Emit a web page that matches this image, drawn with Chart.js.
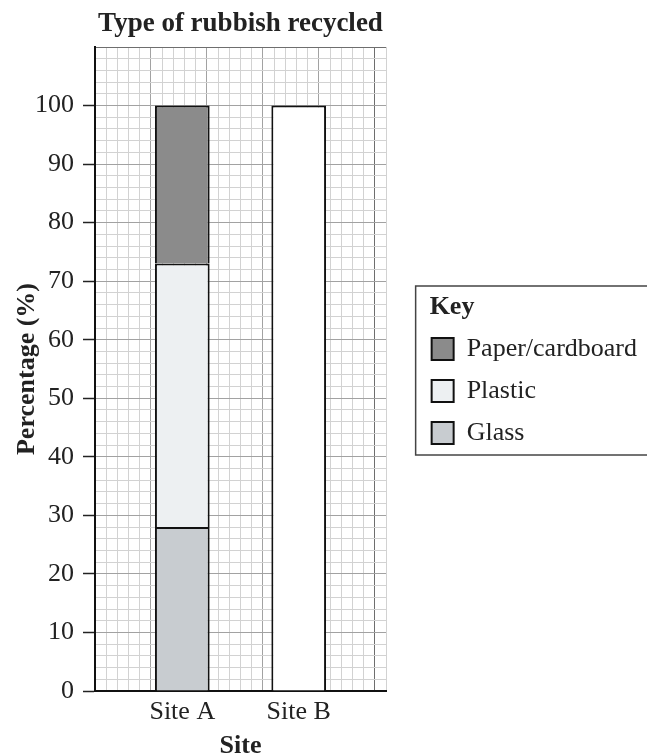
<!DOCTYPE html>
<html><head><meta charset="utf-8">
<script src="https://cdn.jsdelivr.net/npm/chart.js@4/dist/chart.umd.min.js"></script>
<style>html,body{margin:0;padding:0;background:#fff}canvas{display:block}</style>
</head><body>
<canvas id="c" width="647" height="756"></canvas>
<script>
// ---- data ----
const sites = ['Site A', 'Site B'];
const glass = [28, null];
const plastic = [45, null];
const paper = [27, null];
const siteBTotal = [null, 100];
const yTickLabels = [0, 10, 20, 30, 40, 50, 60, 70, 80, 90, 100];
const seriesNames = ['Glass', 'Plastic', 'Paper/cardboard'];
const legendTitle = 'Key';
const chartTitle = 'Type of rubbish recycled';
const xTitle = 'Site';
const yTitle = 'Percentage (%)';

// ---- layout helpers (grid paper has 5 big columns; sites sit in columns 2 and 4) ----
const columnCount = 5;
const siteColumns = [1, 3];
const labels = new Array(columnCount).fill('');
sites.forEach((s, i) => labels[siteColumns[i]] = s);
function place(arr) {
  const out = new Array(columnCount).fill(null);
  arr.forEach((v, i) => out[siteColumns[i]] = v);
  return out;
}

const FONT = "'Liberation Serif', 'Times New Roman', serif";
const TXT = '#222';
const MINOR = '#d2d2d2', MAJOR = '#a2a2a2', EDGE = '#6e6e6e';
const LEG_PAD = 16, LEG_FONT = 26;
const tv = c => (c && c.tick) ? c.tick.value : NaN;

const keyBox = {
  id: 'keyBox',
  afterDraw(chart) {
    const L = chart.legend;
    if (!L) return;
    const ctx = chart.ctx;
    const n = L.legendItems.length;
    const itemH = LEG_FONT, titleH = LEG_FONT;
    const itemsTop = (L.top + titleH + LEG_PAD + L.bottom - n * (itemH + LEG_PAD)) / 2;
    const keyY = itemsTop - LEG_PAD - titleH / 2;
    ctx.save();
    ctx.font = 'bold ' + LEG_FONT + 'px ' + FONT;
    ctx.fillStyle = TXT;
    ctx.textBaseline = 'middle';
    ctx.textAlign = 'left';
    ctx.fillText(legendTitle, L.left + LEG_PAD - 2, keyY);
    ctx.strokeStyle = '#444';
    ctx.lineWidth = 1.5;
    const top = keyY - 21;
    const bottom = itemsTop + n * (itemH + LEG_PAD) - LEG_PAD + 9;
    ctx.strokeRect(L.left, top, chart.width, bottom - top);
    ctx.restore();
  }
};

const bw = 2, bc = '#111';
const datasets = [
  {label: seriesNames[0], data: place(glass), backgroundColor: '#c8ccd0'},
  {label: seriesNames[1], data: place(plastic), backgroundColor: '#edf0f2'},
  {label: seriesNames[2], data: place(paper), backgroundColor: '#8b8b8b'},
  {label: 'Site B', data: place(siteBTotal), backgroundColor: '#ffffff'}
].map(d => Object.assign(d, {borderColor: bc, borderWidth: bw, borderSkipped: 'start', xAxisID: 'x', yAxisID: 'y',
  barPercentage: 1, categoryPercentage: 0.94}));

new Chart(document.getElementById('c'), {
  type: 'bar',
  data: {labels, datasets},
  options: {
    responsive: false,
    animation: false,
    devicePixelRatio: 1,
    layout: {padding: 0},
    plugins: {
      tooltip: {enabled: false},
      title: {
        display: true, text: chartTitle, fullSize: false, color: TXT,
        font: {family: FONT, size: 27, weight: 'bold', lineHeight: 1.2},
        padding: {top: 8, bottom: 6.6}
      },
      legend: {
        position: 'right',
        reverse: true,
        maxWidth: 300,
        title: {display: true, text: legendTitle, color: 'rgba(0,0,0,0)', padding: 0,
          font: {family: FONT, size: LEG_FONT, weight: 'bold', lineHeight: 1}},
        labels: {
          filter: item => item.datasetIndex < 3,
          boxWidth: 22, boxHeight: 22, padding: LEG_PAD, color: TXT,
          font: {family: FONT, size: LEG_FONT}
        }
      }
    },
    scales: {
      xg: {
        type: 'linear', position: 'bottom', min: 0, max: 25,
        ticks: {display: false, stepSize: 1, maxTicksLimit: 100},
        grid: {drawTicks: false, lineWidth: 1,
          color: c => { const v = tv(c); return v === 25 ? EDGE : (v % 5 === 0 ? MAJOR : MINOR); }},
        border: {display: false},
        afterFit: s => { s.height = 0; }
      },
      x: {
        type: 'category', stacked: true, offset: true,
        grid: {display: false, drawTicks: false},
        border: {display: true, color: bc, width: 2},
        ticks: {autoSkip: false, maxRotation: 0, padding: 6, color: TXT, font: {family: FONT, size: 26}},
        title: {display: true, text: xTitle, color: TXT, padding: {top: 0, bottom: 0},
          font: {family: FONT, size: 26, weight: 'bold', lineHeight: 0.75}},
        afterFit: s => { s.height = 65; }
      },
      y: {
        stacked: true, min: 0, max: 110,
        ticks: {stepSize: 2, autoSkip: false, maxTicksLimit: 100, padding: 9, color: TXT,
          font: {family: FONT, size: 26},
          callback: v => yTickLabels.includes(v) ? String(v) : ''},
        grid: {
          lineWidth: 1, tickLength: 12, tickWidth: 1.5,
          color: c => { const v = tv(c); return v === 110 ? EDGE : (v % 10 === 0 ? MAJOR : MINOR); },
          tickColor: c => yTickLabels.includes(tv(c)) ? '#222' : 'rgba(0,0,0,0)'
        },
        border: {color: bc, width: 2},
        title: {display: true, text: yTitle, color: TXT, padding: {top: 12, bottom: 0},
          font: {family: FONT, size: 26, weight: 'bold', lineHeight: 1.15}},
        afterFit: s => { s.width = 95; }
      },
      gap: {
        type: 'linear', position: 'right', display: true,
        grid: {display: false}, ticks: {display: false}, border: {display: false},
        afterFit: s => { s.width = Math.max(0, 261 - (s.chart.legend ? s.chart.legend.width : 233)); }
      }
    }
  },
  plugins: [keyBox]
});
</script>
</body></html>
